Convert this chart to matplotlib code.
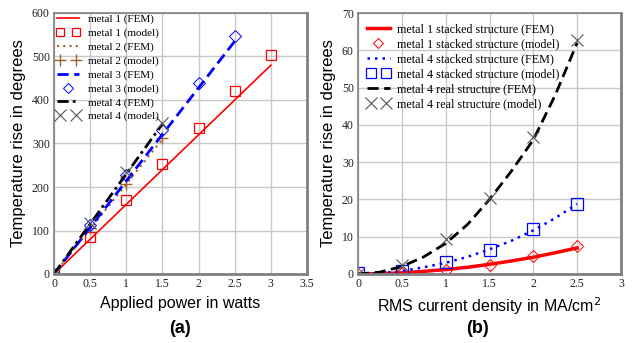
import numpy as np
import matplotlib
matplotlib.use("Agg")
import matplotlib.pyplot as plt
from matplotlib.legend_handler import HandlerLine2D

# ---- panel (a): temperature rise vs applied power ----
p_fem1 = [0, 3.0]
t_fem1 = [0, 480]
p_mod1 = [0, 0.5, 1.0, 1.5, 2.0, 2.5, 3.0]
t_mod1 = [0, 85, 170, 252, 335, 420, 503]

p_fem2 = [0, 1.5]
t_fem2 = [0, 310]
p_mod2 = [0, 0.5, 1.0, 1.5]
t_mod2 = [0, 105, 207, 312]

p_fem3 = [0, 2.5]
t_fem3 = [0, 535]
p_mod3 = [0, 0.5, 1.0, 1.5, 2.0, 2.5]
t_mod3 = [0, 112, 228, 330, 438, 548]

p_fem4 = [0, 1.5]
t_fem4 = [0, 345]
p_mod4 = [0, 0.5, 1.0, 1.5]
t_mod4 = [0, 118, 235, 347]

# ---- panel (b): temperature rise vs RMS current density ----
j_fem = [0, 0.25, 0.5, 0.75, 1.0, 1.25, 1.5, 1.75, 2.0, 2.25, 2.5]
t_m1s_fem = [0, 0.1, 0.3, 0.7, 1.2, 1.8, 2.6, 3.5, 4.5, 5.7, 7.0]
t_m4s_fem = [0, 0.2, 0.8, 1.8, 3.0, 4.6, 6.6, 8.9, 11.7, 15.0, 18.8]
t_m4r_fem = [0, 0.5, 2.0, 4.6, 8.2, 13.3, 20.0, 27.6, 36.0, 48.0, 62.0]

j_mod = [0, 0.5, 1.0, 1.5, 2.0, 2.5]
t_m1s_mod = [0, 0.3, 1.1, 2.5, 4.8, 7.4]
t_m4s_mod = [0.3, 0.8, 3.2, 6.5, 12.0, 18.7]
t_m4r_mod = [0, 2.3, 9.5, 20.3, 36.8, 62.8]

serif = "Liberation Serif"
sans = "Liberation Sans"

fig = plt.figure(figsize=(6.33, 3.43), dpi=100)
ax1 = fig.add_axes([54/633, 1 - 274/343, (307-54)/633, (274-13)/343])
ax2 = fig.add_axes([358/633, 1 - 274/343, (621-358)/633, (274-13)/343])

def style(ax, xt, yt, xlim, ylim):
    ax.set_xlim(*xlim)
    ax.set_ylim(*ylim)
    ax.set_xticks(xt)
    ax.set_yticks(yt)
    ax.set_xticklabels([f"{v:g}" for v in xt], fontfamily=serif, fontsize=8.5, color="#222222")
    ax.set_yticklabels([f"{v:g}" for v in yt], fontfamily=serif, fontsize=8.5, color="#222222")
    ax.tick_params(length=0, pad=3)
    ax.grid(True, color="#c8c8c8", linewidth=1)
    ax.set_axisbelow(True)
    for s in ax.spines.values():
        s.set_color("#808080")
        s.set_linewidth(1.2)
    for s in ("bottom", "right"):
        ax.spines[s].set_linewidth(2)

two = HandlerLine2D(numpoints=2)
one = HandlerLine2D(numpoints=1)

ax1.plot(p_fem1, t_fem1, color="red", lw=1.2, label="metal 1 (FEM)")
m1, = ax1.plot(p_mod1, t_mod1, ls="none", marker="s", mfc="none", mec="red", ms=7, mew=0.9, label="metal 1 (model)")
ax1.plot(p_fem2, t_fem2, color="#a0622d", lw=1.5, ls=(0, (1, 2)), label="metal 2 (FEM)")
m2, = ax1.plot(p_mod2, t_mod2, ls="none", marker="+", color="#a0622d", ms=9, mew=1, label="metal 2 (model)")
ax1.plot(p_fem3, t_fem3, color="blue", lw=2, ls=(0, (4, 2)), label="metal 3 (FEM)")
m3, = ax1.plot(p_mod3, t_mod3, ls="none", marker="D", mfc="none", mec="blue", ms=6, mew=0.7, label="metal 3 (model)")
ax1.plot(p_fem4, t_fem4, color="black", lw=2, ls=(0, (4, 1.5, 1, 1.5)), label="metal 4 (FEM)")
m4, = ax1.plot(p_mod4, t_mod4, ls="none", marker="x", color="#555555", ms=9, mew=0.8, label="metal 4 (model)")
style(ax1, [0, 0.5, 1, 1.5, 2, 2.5, 3, 3.5], [0, 100, 200, 300, 400, 500, 600], (0, 3.5), (0, 600))
ax1.set_xlabel("Applied power in watts", fontfamily=sans, fontsize=11.5, labelpad=4)
ax1.set_ylabel("Temperature rise in degrees", fontfamily=sans, fontsize=12, labelpad=4)
ax1.legend(loc="upper left", bbox_to_anchor=(0.012, 0.996), borderaxespad=0, borderpad=0,
           prop={"family": serif, "size": 8}, frameon=False,
           handlelength=2.0, handletextpad=0.8, labelspacing=0.35, markerscale=0.9,
           handler_map={m1: two, m2: two, m3: one, m4: two})

ax2.plot(j_fem, t_m1s_fem, color="red", lw=2.5, label="metal 1 stacked structure (FEM)")
n1, = ax2.plot(j_mod, t_m1s_mod, ls="none", marker="D", mfc="none", mec="red", ms=6, mew=0.7, label="metal 1 stacked structure (model)")
ax2.plot(j_fem, t_m4s_fem, color="blue", lw=1.8, ls=(0, (1, 2)), label="metal 4 stacked structure (FEM)")
n2, = ax2.plot(j_mod, t_m4s_mod, ls="none", marker="s", mfc="none", mec="blue", ms=8, mew=0.9, label="metal 4 stacked structure (model)")
ax2.plot(j_fem, t_m4r_fem, color="black", lw=2, ls=(0, (4, 2)), label="metal 4 real structure (FEM)")
n3, = ax2.plot(j_mod, t_m4r_mod, ls="none", marker="x", color="#555555", ms=9, mew=0.8, label="metal 4 real structure (model)")
style(ax2, [0, 0.5, 1, 1.5, 2, 2.5, 3], [0, 10, 20, 30, 40, 50, 60, 70], (0, 3), (0, 70))
ax2.set_xlabel("RMS current density in MA/cm$^2$", fontfamily=sans, fontsize=11.5, labelpad=4)
ax2.set_ylabel("Temperature rise in degrees", fontfamily=sans, fontsize=12, labelpad=4)
ax2.legend(loc="upper left", bbox_to_anchor=(0.034, 0.962), borderaxespad=0, borderpad=0,
           prop={"family": serif, "size": 8.7}, frameon=False,
           handlelength=1.9, handletextpad=0.6, labelspacing=0.26, markerscale=0.9,
           handler_map={n1: one, n2: two, n3: two})

fig.text(0.285, 0.03, "(a)", fontfamily=sans, fontsize=13, fontweight="bold", ha="center")
fig.text(0.755, 0.03, "(b)", fontfamily=sans, fontsize=13, fontweight="bold", ha="center")

fig.savefig("out.png", dpi=100, facecolor="white")
